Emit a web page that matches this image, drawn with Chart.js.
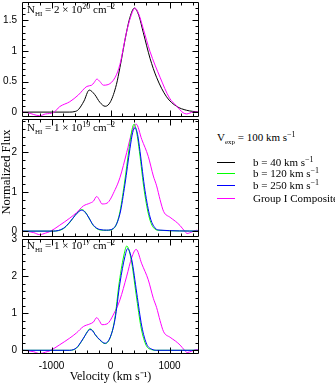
<!DOCTYPE html>
<html>
<head>
<meta charset="utf-8">
<script src="https://cdn.jsdelivr.net/npm/chart.js@4.4.1/dist/chart.umd.min.js"></script>
<style>
  body { margin: 0; background: #fff; }
  #page { position: relative; width: 335px; height: 384px; overflow: hidden; font-family: "Liberation Serif", serif; font-size: 11px; color: #000; }
  canvas { position: absolute; left: 0; }
  .txt { position: absolute; white-space: nowrap; line-height: 12px; }
  .sub { font-size: 7px; position: relative; top: 3px; }
  .sup { font-size: 8px; position: relative; top: -4px; }
  .key { position: absolute; left: 217px; width: 18px; height: 0; border-top: 1px solid; }
</style>
</head>
<body>
<div id="page">
  <canvas id="c1"></canvas>
  <canvas id="c2"></canvas>
  <canvas id="c3"></canvas>

  <div class="txt" style="left:27px;top:3px">N<span class="sub">HI</span> = 2 × 10<span class="sup">20</span> cm<span class="sup">−2</span></div>
  <div class="txt" style="left:27px;top:121px">N<span class="sub">HI</span> = 1 × 10<span class="sup">19</span> cm<span class="sup">−2</span></div>
  <div class="txt" style="left:27px;top:239px">N<span class="sub">HI</span> = 1 × 10<span class="sup">17</span> cm<span class="sup">−2</span></div>

  <div class="txt" style="left:-44px;top:166px;width:100px;text-align:center;font-size:12.5px;transform:rotate(-90deg)">Normalized Flux</div>

  <div class="txt" style="left:217px;top:131px">V<span class="sub">exp</span> = 100 km s<span class="sup">−1</span></div>
  <div class="key" style="top:162px;border-color:#000"></div>
  <div class="key" style="top:173px;border-color:#00ff00"></div>
  <div class="key" style="top:185px;border-color:#0000ff"></div>
  <div class="key" style="top:198px;border-color:#ff00ff"></div>
  <div class="txt" style="left:253px;top:156px">b = 40 km s<span class="sup">−1</span></div>
  <div class="txt" style="left:253px;top:167px">b = 120 km s<span class="sup">−1</span></div>
  <div class="txt" style="left:253px;top:179px">b = 250 km s<span class="sup">−1</span></div>
  <div class="txt" style="left:253px;top:192px">Group I Composite</div>
</div>
<script>
// velocity axis (km/s)
const xTickLabels = [-1000, 0, 1000];
const xMinorTicks = [-1400, -1200, -800, -600, -400, -200, 200, 400, 600, 800, 1200, 1400];

// panel 1: N_HI = 2e20
const black1Vel  = [-1500, -700, -600, -545, -450, -360, -270, -180, -90, 0, 100, 160, 270, 330, 405, 480, 556, 670, 780, 950, 1120, 1290, 1500];
const black1Flux = [0, 0, 0.01, 0.04, 0.18, 0.36, 0.29, 0.16, 0.095, 0.17, 0.45, 0.73, 1.3, 1.55, 1.70, 1.58, 1.3, 0.88, 0.57, 0.25, 0.095, 0.03, 0];
const comp1Vel  = [-1500, -1400, -1300, -1200, -1100, -970, -860, -690, -545, -400, -320, -280, -230, -180, -120, -40, 80, 160, 270, 340, 415, 480, 556, 670, 840, 1000, 1120, 1230, 1290, 1400, 1500];
const comp1Flux = [0, -0.01, -0.04, -0.06, -0.03, -0.01, 0.09, 0.17, 0.28, 0.42, 0.44, 0.48, 0.54, 0.50, 0.44, 0.45, 0.57, 0.78, 1.30, 1.55, 1.70, 1.60, 1.36, 0.99, 0.57, 0.23, 0.10, -0.01, -0.03, 0, 0];

// panel 2: N_HI = 1e19
const green2Vel  = [-1500, -970, -800, -690, -600, -540, -490, -430, -375, -290, -180, -65, 50, 150, 235, 320, 365, 400, 445, 490, 575, 660, 745, 830, 1500];
const green2Flux = [0, 0, 0.06, 0.22, 0.40, 0.50, 0.55, 0.49, 0.36, 0.14, 0.03, 0.02, 0.06, 0.42, 1.20, 2.15, 2.58, 2.72, 2.50, 2.03, 1.00, 0.33, 0.06, 0.02, 0];
const blue2Vel   = [-1500, -970, -800, -690, -600, -540, -490, -430, -375, -290, -180, -65, 50, 160, 245, 330, 375, 415, 460, 500, 585, 670, 755, 840, 1500];
const blue2Flux  = [0, 0, 0.07, 0.23, 0.40, 0.49, 0.53, 0.48, 0.36, 0.15, 0.04, 0.025, 0.07, 0.44, 1.19, 2.10, 2.50, 2.63, 2.45, 2.03, 1.03, 0.36, 0.08, 0.025, 0];

// panel 3: N_HI = 1e17
const green3Vel  = [-1500, -690, -575, -490, -430, -390, -350, -300, -263, -178, -93, -8, 70, 150, 235, 275, 350, 435, 520, 605, 690, 775, 1500];
const green3Flux = [0, 0, 0.06, 0.24, 0.40, 0.51, 0.58, 0.53, 0.43, 0.27, 0.18, 0.33, 0.82, 1.85, 2.62, 2.81, 2.45, 1.5, 0.6, 0.13, 0.02, 0, 0];
const blue3Vel   = [-1500, -690, -575, -490, -430, -390, -347, -300, -263, -178, -93, -8, 76, 160, 245, 290, 360, 445, 530, 615, 700, 785, 1500];
const blue3Flux  = [0, 0, 0.07, 0.25, 0.40, 0.50, 0.56, 0.52, 0.43, 0.28, 0.19, 0.34, 0.83, 1.81, 2.53, 2.74, 2.44, 1.54, 0.65, 0.16, 0.03, 0, 0];

// Group I composite as shown in panels 2 and 3
const compVel  = [-1500, -1400, -1300, -1200, -1100, -1025, -860, -690, -575, -460, -350, -290, -234, -190, -145, -60, 80, 160, 275, 360, 435, 530, 640, 726, 782, 840, 900, 1010, 1100, 1180, 1250, 1300, 1380, 1460, 1500];
const compFlux = [0, -0.01, -0.04, -0.09, -0.05, -0.01, 0.15, 0.33, 0.47, 0.64, 0.71, 0.76, 0.88, 0.80, 0.69, 0.71, 1.06, 1.36, 2.0, 2.5, 2.72, 2.33, 1.9, 1.4, 1.15, 0.8, 0.5, 0.35, 0.25, 0.14, 0.01, -0.06, -0.02, 0.02, 0.01];

const yTicks1 = [0, 0.5, 1, 1.5];
const yMinor1 = [0.1, 0.2, 0.3, 0.4, 0.6, 0.7, 0.8, 0.9, 1.1, 1.2, 1.3, 1.4, 1.6, 1.7];
const yTicks23 = [0, 1, 2, 3];
const yMinor23 = [0.2, 0.4, 0.6, 0.8, 1.2, 1.4, 1.6, 1.8, 2.2, 2.4, 2.6, 2.8];

function pts(xs, ys) {
  return xs.map((v, i) => ({ x: v, y: ys[i] }))
}

function line(xs, ys, color) {
  return {
    data: pts(xs, ys),
    borderColor: color,
    borderWidth: 1,
    pointRadius: 0,
    fill: false,
    cubicInterpolationMode: 'monotone'
  }
}

// box with inward ticks on all four sides
const frameTicks = {
  id: 'frameTicks',
  afterDatasetsDraw(chart, args, opts) {
    const ctx = chart.ctx;
    const a = chart.chartArea;
    const xs = chart.scales.x, ys = chart.scales.y;
    ctx.save();
    ctx.strokeStyle = '#000';
    ctx.lineWidth = 1;
    ctx.beginPath();
    const L = Math.round(a.left) + 0.5, R = Math.round(a.right) - 0.5;
    const T = Math.round(a.top) + 0.5, B = Math.round(a.bottom) - 0.5;
    ctx.rect(L, T, R - L, B - T);
    const tx = (v, len) => {
      const p = Math.round(xs.getPixelForValue(v)) + 0.5;
      ctx.moveTo(p, B); ctx.lineTo(p, B - len);
      ctx.moveTo(p, T); ctx.lineTo(p, T + len);
    };
    const ty = (v, len) => {
      const p = Math.round(ys.getPixelForValue(v)) + 0.5;
      ctx.moveTo(L, p); ctx.lineTo(L + len, p);
      ctx.moveTo(R, p); ctx.lineTo(R - len, p);
    };
    xTickLabels.forEach(v => tx(v, 6));
    xMinorTicks.forEach(v => tx(v, 3));
    opts.yMajor.forEach(v => ty(v, 6));
    opts.yMinor.forEach(v => ty(v, 3));
    ctx.stroke();
    ctx.restore();
  }
};

const tickFont = { family: '"Liberation Sans", sans-serif', size: 10 };

function makePanel(id, top, height, padBottom, datasets, yMin, yMax, yTicks, yMinor, showX) {
  const canvas = document.getElementById(id);
  canvas.style.top = top + 'px';
  canvas.width = 210;
  canvas.height = height;
  return new Chart(canvas.getContext('2d'), {
    type: 'line',
    data: { datasets: datasets },
    options: {
      responsive: false,
      animation: false,
      events: [],
      layout: { padding: { top: 10, bottom: padBottom, left: 0, right: 11 } },
      plugins: {
        legend: { display: false },
        tooltip: { enabled: false },
        frameTicks: { yMajor: yTicks, yMinor: yMinor }
      },
      scales: {
        x: {
          type: 'linear',
          min: -1500,
          max: 1500,
          display: showX,
          grid: { display: false, drawTicks: false },
          border: { display: false },
          afterBuildTicks: s => { s.ticks = xTickLabels.map(v => ({ value: v })) },
          afterFit: s => { if (showX) s.height = 30 },
          ticks: { color: '#000', font: tickFont, padding: 6, maxRotation: 0, callback: v => String(v) },
          title: {
            display: showX,
            text: 'Velocity (km s⁻¹)',
            color: '#000',
            font: { family: '"Liberation Serif", serif', size: 12 },
            padding: { top: 0, bottom: 0 }
          }
        },
        y: {
          min: yMin,
          max: yMax,
          grid: { display: false, drawTicks: false },
          border: { display: false },
          afterBuildTicks: s => { s.ticks = yTicks.map(v => ({ value: v })) },
          afterFit: s => { s.width = 22 },
          ticks: { color: '#000', font: tickFont, padding: 5, callback: v => String(v) }
        }
      }
    },
    plugins: [frameTicks]
  });
}

makePanel('c1', -9, 137, 10, [
  line(comp1Vel, comp1Flux, '#ff00ff'),
  line(black1Vel, black1Flux, '#000000')
], -0.08, 1.8, yTicks1, yMinor1, false);

makePanel('c2', 108, 140, 10, [
  line(blue2Vel, blue2Flux, '#0000ff'),
  line(green2Vel, green2Flux, '#00ff00'),
  line(compVel, compFlux, '#ff00ff')
], -0.15, 2.85, yTicks23.slice(0, 3), yMinor23, false);

makePanel('c3', 228, 156, 0, [
  line(blue3Vel, blue3Flux, '#0000ff'),
  line(green3Vel, green3Flux, '#00ff00'),
  line(compVel, compFlux, '#ff00ff')
], -0.1, 3.0, yTicks23, yMinor23, true);
</script>
</body>
</html>
